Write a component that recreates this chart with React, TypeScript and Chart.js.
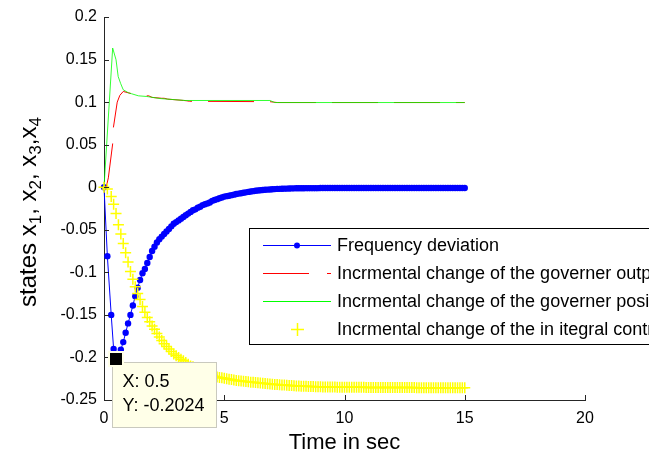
import React, { useEffect, useRef } from 'react';
import { Chart, registerables } from 'chart.js';

Chart.register(...registerables);

const FONT = '"Liberation Sans", Arial, Helvetica, sans-serif';

// Time samples shared by the frequency deviation and integral controller states
const timeSamples = [
  0, 0.14, 0.3, 0.4,
  0.5, 0.6, 0.7, 0.8, 0.9,
  1.0, 1.1, 1.2, 1.3, 1.4, 1.5, 1.6, 1.7, 1.8, 1.9,
  2.0, 2.1, 2.2, 2.3, 2.4, 2.5, 2.6, 2.7, 2.8, 2.9,
  3.0, 3.1, 3.2, 3.3, 3.4, 3.5, 3.6, 3.7, 3.8, 3.9,
  4.0, 4.1, 4.2, 4.3, 4.4, 4.5, 4.6, 4.7, 4.8, 4.9,
  5.0, 5.1, 5.2, 5.3, 5.4, 5.5, 5.6, 5.7, 5.8, 5.9,
  6.0, 6.1, 6.2, 6.3, 6.4, 6.5, 6.6, 6.7, 6.8, 6.9,
  7.0, 7.1, 7.2, 7.3, 7.4, 7.5, 7.6, 7.7, 7.8, 7.9,
  8.0, 8.1, 8.2, 8.3, 8.4, 8.5, 8.6, 8.7, 8.8, 8.9,
  9.0, 9.1, 9.2, 9.3, 9.4, 9.5, 9.6, 9.7, 9.8, 9.9,
  10.0, 10.1, 10.2, 10.3, 10.4, 10.5, 10.6, 10.7, 10.8, 10.9,
  11.0, 11.1, 11.2, 11.3, 11.4, 11.5, 11.6, 11.7, 11.8, 11.9,
  12.0, 12.1, 12.2, 12.3, 12.4, 12.5, 12.6, 12.7, 12.8, 12.9,
  13.0, 13.1, 13.2, 13.3, 13.4, 13.5, 13.6, 13.7, 13.8, 13.9,
  14.0, 14.1, 14.2, 14.3, 14.4, 14.5, 14.6, 14.7, 14.8, 14.9,
  15.0,
];

const frequencyDeviation = [
  0, -0.081, -0.150, -0.190,
  -0.2024, -0.198, -0.191, -0.182, -0.171,
  -0.160, -0.150, -0.139, -0.128, -0.118, -0.109, -0.101, -0.096, -0.089, -0.082,
  -0.075, -0.070, -0.065, -0.061, -0.058, -0.055, -0.052, -0.049, -0.046, -0.043,
  -0.041, -0.039, -0.037, -0.035, -0.033, -0.031, -0.029, -0.027, -0.026, -0.024,
  -0.023, -0.021, -0.020, -0.019, -0.018, -0.016, -0.015, -0.014, -0.013, -0.012,
  -0.011, -0.0105, -0.010, -0.0093, -0.0087, -0.008, -0.0075, -0.007, -0.0065, -0.006,
  -0.0055, -0.005, -0.0046, -0.0042, -0.0039, -0.0036, -0.0033, -0.003, -0.0028, -0.0026,
  -0.0024, -0.0022, -0.002, -0.0019, -0.0018, -0.0017, -0.0016, -0.0015, -0.0014, -0.0013,
  -0.0012, -0.0012, -0.0012, -0.0012, -0.0011, -0.0011, -0.0011, -0.0011, -0.0011, -0.0011,
  -0.001, -0.001, -0.001, -0.001, -0.001, -0.001, -0.001, -0.001, -0.001, -0.001,
  -0.001, -0.001, -0.001, -0.001, -0.001, -0.001, -0.001, -0.001, -0.001, -0.001,
  -0.001, -0.001, -0.001, -0.001, -0.001, -0.001, -0.001, -0.001, -0.001, -0.001,
  -0.001, -0.001, -0.001, -0.001, -0.001, -0.001, -0.001, -0.001, -0.001, -0.001,
  -0.001, -0.001, -0.001, -0.001, -0.001, -0.001, -0.001, -0.001, -0.001, -0.001,
  -0.001, -0.001, -0.001, -0.001, -0.001, -0.001, -0.001, -0.001, -0.001, -0.001,
  -0.001,
];

const integralControl = [
  0, -0.002, -0.011, -0.020,
  -0.031, -0.044, -0.055, -0.066, -0.077,
  -0.088, -0.099, -0.108, -0.117, -0.125, -0.132, -0.140, -0.147, -0.153, -0.158,
  -0.163, -0.167, -0.172, -0.176, -0.180, -0.184, -0.187, -0.190, -0.193, -0.196,
  -0.198, -0.200, -0.202, -0.204, -0.206, -0.208, -0.210, -0.211, -0.213, -0.214,
  -0.216, -0.217, -0.218, -0.219, -0.220, -0.221, -0.222, -0.223, -0.2235, -0.224,
  -0.2245, -0.225, -0.2255, -0.226, -0.2265, -0.227, -0.2273, -0.2276, -0.228, -0.2283,
  -0.2286, -0.229, -0.2292, -0.2295, -0.2298, -0.230, -0.2303, -0.2306, -0.2309, -0.2312,
  -0.2315, -0.2317, -0.2319, -0.2321, -0.2323, -0.2325, -0.2327, -0.2329, -0.2331, -0.2333,
  -0.2335, -0.2336, -0.2337, -0.2338, -0.2339, -0.234, -0.2341, -0.2342, -0.2343, -0.2344,
  -0.2345, -0.2346, -0.2346, -0.2347, -0.2347, -0.2348, -0.2348, -0.2349, -0.2349, -0.235,
  -0.235, -0.235, -0.235, -0.235, -0.2351, -0.2351, -0.2351, -0.2351, -0.2351, -0.2352,
  -0.2352, -0.2352, -0.2352, -0.2352, -0.2353, -0.2353, -0.2353, -0.2353, -0.2353, -0.2353,
  -0.2354, -0.2354, -0.2354, -0.2354, -0.2354, -0.2354, -0.2354, -0.2354, -0.2354, -0.2354,
  -0.2355, -0.2355, -0.2355, -0.2355, -0.2355, -0.2355, -0.2355, -0.2355, -0.2355, -0.2355,
  -0.2355, -0.2355, -0.2355, -0.2355, -0.2355, -0.2355, -0.2355, -0.2355, -0.2355, -0.2355,
  -0.2355,
];

// Governor output (red, dashed)
const governorOutputTime = [0, 0.1, 0.18, 0.36, 0.39, 0.55, 0.66, 0.8, 1.0, 1.4, 1.7, 1.85, 2.0, 2.4, 2.5, 2.65, 3.3, 3.45, 3.55, 6.9, 7.05, 7.2, 15];
const governorOutput = [0, 0.001, 0.011, 0.051, 0.07, 0.1, 0.108, 0.1125, 0.111, 0.108, 0.107, 0.1075, 0.1055, 0.1045, 0.1045, 0.1035, 0.102, 0.1015, 0.101, 0.1005, 0.1, 0.0995, 0.0995];

// Governor position (green)
const governorPositionTime = [0, 0.36, 0.5, 0.59, 0.69, 0.8, 1.01, 1.15, 1.43, 1.78, 2.33, 3.37, 6.9, 7.1, 15];
const governorPosition = [0, 0.1635, 0.1498, 0.130, 0.122, 0.1145, 0.111, 0.1098, 0.1074, 0.1066, 0.1042, 0.1019, 0.1019, 0.0995, 0.0995];

const legendLabels = [
  'Frequency deviation',
  'Incrmental change of the governer output',
  'Incrmental change of the governer position',
  'Incrmental change of the in itegral controller',
];

const xTitle = 'Time in sec';
const yTitleParts: [string, boolean][] = [
  ['states x', false], ['1', true], [', x', false], ['2', true],
  [', x', false], ['3', true], [',x', false], ['4', true],
];

const tipIndex = 4;

const toPoints = (xs: number[], ys: number[]) => xs.map((x, i) => ({ x, y: ys[i] }));

const decorPlugin = {
  id: 'matlabDecor',
  afterDraw(chart: any) {
    const ctx: CanvasRenderingContext2D = chart.ctx;
    const xs = chart.scales.x;
    const ys = chart.scales.y;
    const area = chart.chartArea;
    ctx.save();
    // inward tick marks
    ctx.strokeStyle = '#262626';
    ctx.lineWidth = 1;
    ctx.beginPath();
    xs.ticks.forEach((t: any) => {
      const px = Math.round(xs.getPixelForValue(t.value)) + 0.5;
      ctx.moveTo(px, area.bottom);
      ctx.lineTo(px, area.bottom - 5);
    });
    ys.ticks.forEach((t: any) => {
      const py = Math.round(ys.getPixelForValue(t.value)) + 0.5;
      ctx.moveTo(area.left, py);
      ctx.lineTo(area.left + 5, py);
    });
    ctx.stroke();

    // x title
    ctx.fillStyle = '#000';
    ctx.font = `22px ${FONT}`;
    ctx.textAlign = 'center';
    ctx.textBaseline = 'alphabetic';
    ctx.fillText(xTitle, (area.left + area.right) / 2, 449);

    // y title with subscripts
    const mainFont = `24px ${FONT}`;
    const subFont = `17px ${FONT}`;
    let total = 0;
    yTitleParts.forEach(([s, sub]) => {
      ctx.font = sub ? subFont : mainFont;
      total += ctx.measureText(s).width;
    });
    ctx.save();
    ctx.translate(36, 212 + total / 2);
    ctx.rotate(-Math.PI / 2);
    ctx.textAlign = 'left';
    let cx = 0;
    yTitleParts.forEach(([s, sub]) => {
      ctx.font = sub ? subFont : mainFont;
      ctx.fillText(s, cx, sub ? 5 : 0);
      cx += ctx.measureText(s).width;
    });
    ctx.restore();

    // legend
    const lx = 249.5, ly = 228.5;
    ctx.fillStyle = '#fff';
    ctx.fillRect(lx, ly, 500, 116);
    ctx.strokeStyle = '#000';
    ctx.lineWidth = 1;
    ctx.strokeRect(lx, ly, 500, 116);
    const rows = [245, 273, 301, 329];
    const x0 = 263, x1 = 331, xm = 297;
    // blue
    ctx.strokeStyle = '#0000FF';
    ctx.beginPath(); ctx.moveTo(x0, rows[0] + 0.5); ctx.lineTo(x1, rows[0] + 0.5); ctx.stroke();
    ctx.fillStyle = '#0000FF';
    ctx.beginPath(); ctx.arc(xm, rows[0] + 0.5, 3, 0, Math.PI * 2); ctx.fill();
    // red dashed
    ctx.strokeStyle = '#FF0000';
    ctx.setLineDash([46, 18]);
    ctx.beginPath(); ctx.moveTo(x0, rows[1] + 0.5); ctx.lineTo(x1, rows[1] + 0.5); ctx.stroke();
    ctx.setLineDash([]);
    // green
    ctx.strokeStyle = '#00FF00';
    ctx.beginPath(); ctx.moveTo(x0, rows[2] + 0.5); ctx.lineTo(x1, rows[2] + 0.5); ctx.stroke();
    // yellow +
    ctx.strokeStyle = '#FFFF00';
    ctx.lineWidth = 1.5;
    ctx.beginPath();
    ctx.moveTo(xm - 6, rows[3] + 0.5); ctx.lineTo(xm + 7, rows[3] + 0.5);
    ctx.moveTo(xm + 0.5, rows[3] - 6); ctx.lineTo(xm + 0.5, rows[3] + 7);
    ctx.stroke();
    ctx.lineWidth = 1;
    ctx.fillStyle = '#000';
    ctx.font = `18px ${FONT}`;
    ctx.textAlign = 'left';
    ctx.textBaseline = 'middle';
    legendLabels.forEach((l, i) => ctx.fillText(l, 337, rows[i] + 1));

    // data tip
    const px = xs.getPixelForValue(timeSamples[tipIndex]);
    const py = ys.getPixelForValue(frequencyDeviation[tipIndex]);
    const bx = Math.round(px) - 3.5, by = Math.round(py) + 3.5;
    ctx.fillStyle = '#FFFFE8';
    ctx.fillRect(bx, by, 104, 65);
    ctx.strokeStyle = '#C9C9BE';
    ctx.strokeRect(bx, by, 104, 65);
    ctx.fillStyle = '#FFFFE8';
    ctx.fillRect(Math.round(px) - 8, Math.round(py) - 8, 16, 16);
    ctx.fillStyle = '#000';
    ctx.fillRect(Math.round(px) - 6, Math.round(py) - 6, 12, 12);
    ctx.font = `18px ${FONT}`;
    ctx.textBaseline = 'middle';
    ctx.fillText(`X: ${timeSamples[tipIndex]}`, bx + 10, by + 20);
    ctx.fillText(`Y: ${frequencyDeviation[tipIndex]}`, bx + 10, by + 44);
    ctx.restore();
  },
};

export default function App() {
  const ref = useRef<HTMLCanvasElement>(null);
  useEffect(() => {
    const canvas = ref.current;
    if (!canvas) return;
    Chart.defaults.font.family = FONT;
    const chart = new Chart(canvas, {
      type: 'scatter',
      data: {
        datasets: [
          {
            label: legendLabels[0],
            data: toPoints(timeSamples, frequencyDeviation),
            showLine: true,
            borderColor: '#0000FF',
            backgroundColor: '#0000FF',
            borderWidth: 1,
            pointRadius: 3.2,
            pointBorderWidth: 0,
            pointHoverRadius: 3.2,
            clip: false as any,
            order: 4,
          },
          {
            label: legendLabels[1],
            data: toPoints(governorOutputTime, governorOutput),
            showLine: true,
            borderColor: '#FF0000',
            borderWidth: 1,
            borderDash: [46, 16],
            pointRadius: 0,
            clip: false as any,
            order: 3,
          },
          {
            label: legendLabels[2],
            data: toPoints(governorPositionTime, governorPosition),
            showLine: true,
            borderColor: 'rgba(0,255,0,0.8)',
            borderWidth: 1,
            pointRadius: 0,
            clip: false as any,
            order: 2,
          },
          {
            label: legendLabels[3],
            data: toPoints(timeSamples, integralControl),
            showLine: false,
            pointStyle: 'cross',
            pointRadius: 5.5,
            pointHoverRadius: 5.5,
            borderColor: '#FFFF00',
            backgroundColor: '#FFFF00',
            pointBorderWidth: 1.5,
            clip: false as any,
            order: 1,
          },
        ],
      },
      options: {
        responsive: false,
        animation: false,
        events: [],
        layout: { padding: { left: 0, top: 17, right: 64, bottom: 0 } },
        plugins: { legend: { display: false }, tooltip: { enabled: false } },
        scales: {
          x: {
            type: 'linear',
            min: 0,
            max: 20,
            ticks: { stepSize: 5, color: '#000', font: { size: 16, family: FONT }, padding: 9, maxRotation: 0 },
            grid: { display: false, drawTicks: false },
            border: { display: true, color: '#262626', width: 1 },
            afterFit: (s: any) => { s.height = 56; },
          },
          y: {
            type: 'linear',
            min: -0.25,
            max: 0.2,
            ticks: {
              stepSize: 0.05,
              color: '#000',
              font: { size: 16, family: FONT },
              padding: 7,
              callback: (v: any) => String(Math.round(Number(v) * 100) / 100),
            },
            grid: { display: false, drawTicks: false },
            border: { display: true, color: '#262626', width: 1 },
            afterFit: (s: any) => { s.width = 104; },
          },
        },
      },
      plugins: [decorPlugin],
    });
    return () => chart.destroy();
  }, []);
  return (
    <div style={{ position: 'absolute', left: 0, top: 0, width: 649, height: 456, background: '#fff' }}>
      <canvas ref={ref} width={649} height={456} style={{ display: 'block', width: 649, height: 456 }} />
    </div>
  );
}
